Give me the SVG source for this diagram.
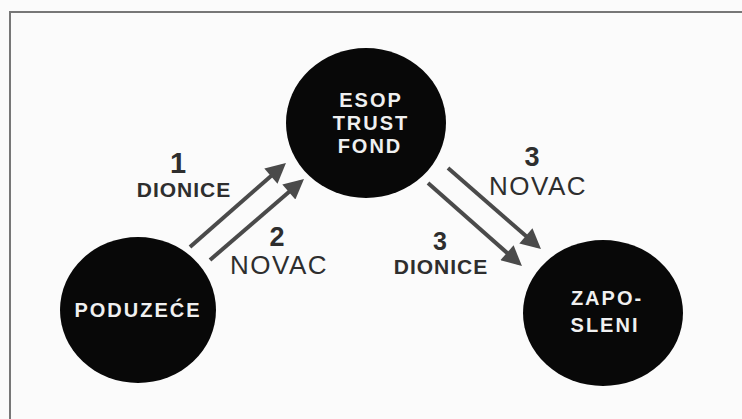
<svg xmlns="http://www.w3.org/2000/svg" width="742" height="419" viewBox="0 0 742 419">
<defs>
<style>
.node{fill:#080808}
.nt{fill:#f0f0f0;font-family:"Liberation Sans",Arial,sans-serif;font-weight:bold;text-anchor:middle;font-size:20px;letter-spacing:2px}
.lbl{fill:#2e2e2e;font-family:"Liberation Sans",Arial,sans-serif;text-anchor:middle}
.num{font-weight:bold}
.dio{font-weight:bold;font-size:21px;letter-spacing:1px}
.nov{font-size:26px;letter-spacing:1.5px}
.arr{stroke:#4a4a4a;stroke-width:4;fill:none;marker-end:url(#ah)}
</style>
<marker id="ah" viewBox="0 0 10 10" refX="7.7" refY="5" markerWidth="6.5" markerHeight="5" orient="auto" markerUnits="strokeWidth">
<path d="M0,0 L10,5 L0,10 z" fill="#4a4a4a"/>
</marker>
</defs>
<rect x="0" y="0" width="742" height="419" fill="#fbfbfb"/>
<path d="M10,419 V12 H742" fill="none" stroke="#777" stroke-width="2"/>
<g id="connectors">
<line class="arr" x1="190" y1="247" x2="282.5" y2="166"/>
<line class="arr" x1="210" y1="260" x2="300.5" y2="181.9"/>
<line class="arr" x1="448" y1="168" x2="537.5" y2="246"/>
<line class="arr" x1="428" y1="183" x2="518.5" y2="263"/>
</g>
<g id="esop">
<ellipse class="node" cx="366" cy="123" rx="80" ry="75"/>
<text class="nt" x="371" y="107">ESOP</text>
<text class="nt" x="371" y="130">TRUST</text>
<text class="nt" x="370" y="153">FOND</text>
</g>
<g id="poduzece">
<ellipse class="node" cx="138" cy="310" rx="78" ry="73"/>
<text class="nt" x="138" y="317">PODUZEĆE</text>
</g>
<g id="zaposleni">
<ellipse class="node" cx="603" cy="313" rx="80" ry="73"/>
<text class="nt" x="607" y="305">ZAPO-</text>
<text class="nt" x="605" y="332">SLENI</text>
</g>
<g id="labels">
<text class="lbl num" x="178" y="173" font-size="29">1</text>
<text class="lbl dio" x="184" y="197">DIONICE</text>
<text class="lbl num" x="277" y="246" font-size="27">2</text>
<text class="lbl nov" x="279" y="274">NOVAC</text>
<text class="lbl num" x="532" y="166" font-size="27">3</text>
<text class="lbl nov" x="538" y="195">NOVAC</text>
<text class="lbl num" x="440" y="250" font-size="25">3</text>
<text class="lbl dio" x="441" y="274">DIONICE</text>
</g>
</svg>
